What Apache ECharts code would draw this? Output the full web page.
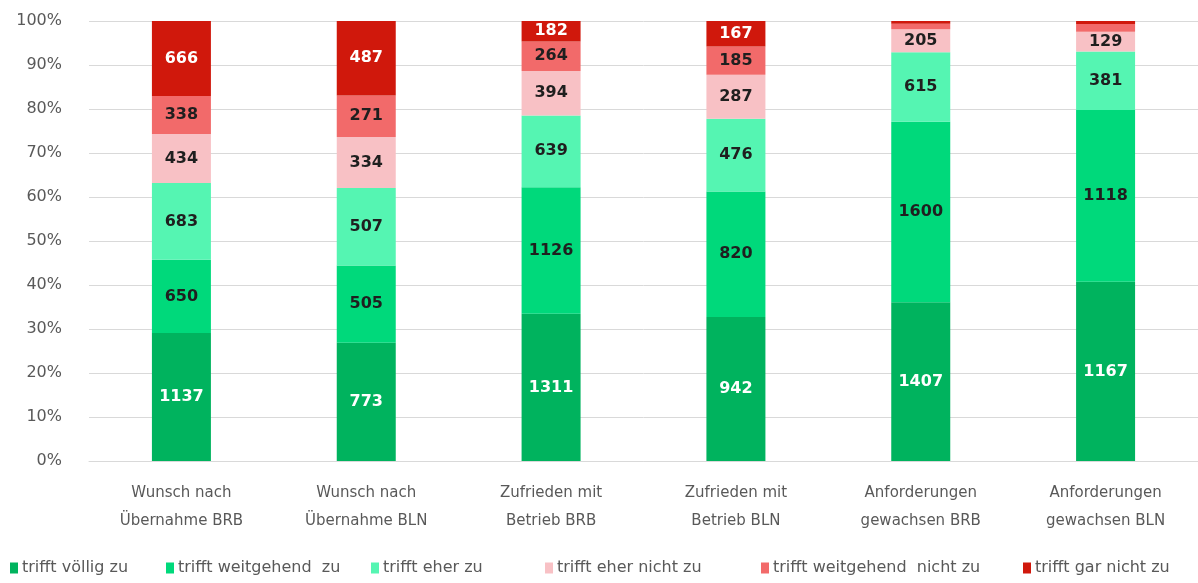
<!DOCTYPE html>
<html>
<head>
<meta charset="utf-8">
<script src="https://cdn.jsdelivr.net/npm/echarts@6/dist/echarts.min.js"></script>
<style>html,body{margin:0;padding:0;background:#fff}#c{width:1198px;height:583px}</style>
</head>
<body>
<div id="c"></div>
<script>
const categories = ['Wunsch nach\nÜbernahme BRB','Wunsch nach\nÜbernahme BLN','Zufrieden mit\nBetrieb BRB','Zufrieden mit\nBetrieb BLN','Anforderungen\ngewachsen BRB','Anforderungen\ngewachsen BLN'];
const seriesNames = ['trifft völlig zu','trifft weitgehend  zu','trifft eher zu','trifft eher nicht zu','trifft weitgehend  nicht zu','trifft gar nicht zu'];
const voelligZu = [1137, 773, 1311, 942, 1407, 1167];
const weitgehendZu = [650, 505, 1126, 820, 1600, 1118];
const eherZu = [683, 507, 639, 476, 615, 381];
const eherNichtZu = [434, 334, 394, 287, 205, 129];
const weitgehendNichtZu = [338, 271, 264, 185, 48, 50];
const garNichtZu = [666, 487, 182, 167, 25, 20];
const yTicks = ['0%','10%','20%','30%','40%','50%','60%','70%','80%','90%','100%'];

const FONT = 'DejaVu Sans';
const colors = ['#00B35E','#00D97B','#55F5B2','#F8C1C5','#F26A6A','#D0180C'];
const labelColors = ['#ffffff','#1f1f1f','#1f1f1f','#1f1f1f','#1f1f1f','#ffffff'];
const legendLefts = [5, 161, 366, 540, 756, 1018];
const raw = [voelligZu, weitgehendZu, eherZu, eherNichtZu, weitgehendNichtZu, garNichtZu];
const totals = categories.map((_, i) => raw.reduce((s, a) => s + a[i], 0));

const series = raw.map((arr, si) => ({
  name: seriesNames[si],
  type: 'bar',
  stack: 'total',
  barWidth: 59,
  itemStyle: { color: colors[si] },
  data: arr.map((v, i) => ({ value: v / totals[i] * 100, raw: v })),
  label: {
    show: true,
    position: 'inside',
    fontFamily: FONT,
    fontWeight: 'bold',
    fontSize: 16,
    color: labelColors[si],
    formatter: p => (p.value >= 3 ? String(p.data.raw) : '')
  }
}));

const legends = seriesNames.map((n, i) => ({
  left: legendLefts[i], bottom: 2,
  itemWidth: 8, itemHeight: 11, itemGap: 0,
  icon: 'rect',
  textStyle: { color: '#595959', fontSize: 16, fontFamily: FONT, padding: [0, 0, 0, -1] },
  data: [n]
}));

const chart = echarts.init(document.getElementById('c'), null, { renderer: 'canvas' });
chart.setOption({
  animation: false,
  textStyle: { fontFamily: FONT },
  grid: { left: 89, top: 21, width: 1118, height: 440, containLabel: false },
  xAxis: {
    type: 'category',
    data: categories,
    axisLine: { show: true, lineStyle: { color: '#D9D9D9' } },
    axisTick: { show: false },
    axisLabel: { color: '#595959', fontSize: 15, lineHeight: 28, margin: 18, interval: 0, fontFamily: FONT }
  },
  yAxis: {
    type: 'value',
    min: 0, max: 100, interval: 10,
    axisLine: { show: false },
    axisTick: { show: false },
    splitLine: { lineStyle: { color: '#D9D9D9', width: 1 } },
    axisLabel: { color: '#595959', fontSize: 16, margin: 27, formatter: v => yTicks[Math.round(v / 10)], fontFamily: FONT }
  },
  legend: legends,
  series: series
});
</script>
</body>
</html>
